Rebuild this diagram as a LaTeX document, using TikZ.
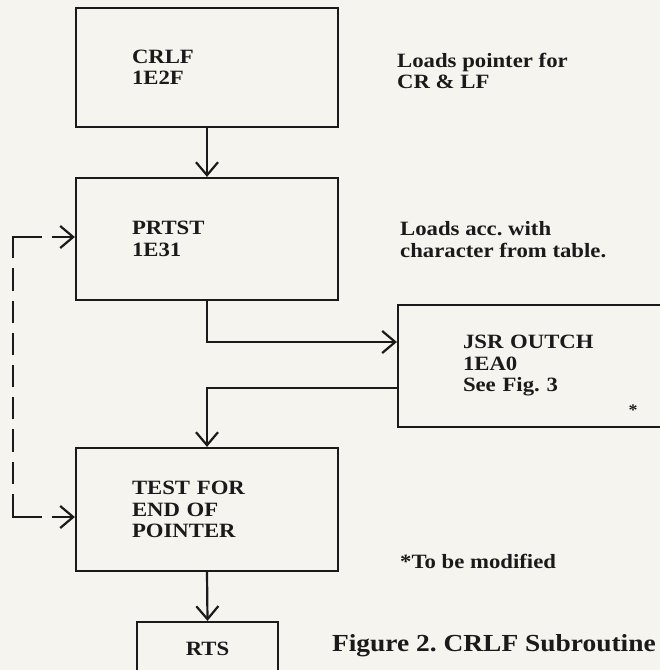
\documentclass[tikz,border=0pt]{standalone}
\usepackage{fontspec}
\newfontfamily\fnt[FakeStretch=1.12]{Liberation Serif}
\usetikzlibrary{arrows.meta}
\definecolor{paper}{HTML}{F6F4EF}
\definecolor{ink}{HTML}{1A1A1A}
\frenchspacing
\begin{document}
\begin{tikzpicture}[x=1pt,y=-1pt,
  txt/.style={font=\fnt\bfseries\fontsize{20.3}{21.5}\selectfont\frenchspacing},
  box/.style={txt, draw=ink, line width=2.2pt, text=ink, align=left, inner sep=0pt},
  note/.style={txt, text=ink, align=left, inner sep=0pt, anchor=base west},
  arr/.style={draw=ink, line width=2.2pt, -{Straight Barb[length=13pt,width=22pt]}},
  dashline/.style={draw=ink, line width=2.2pt, line cap=butt},
  dashhead/.style={dashline, dash pattern=on 30pt off 10pt on 40pt off 0pt,
    -{Straight Barb[length=13pt,width=22pt]}}
  ]
\fill[paper] (0,0) rectangle (660,670);
\useasboundingbox (0,0) rectangle (660,670);
\begin{scope}
\clip (0,0) rectangle (660,670);
% boxes
\node[box, minimum width=262pt, minimum height=119pt, text width=150pt] (crlf) at (207,67.5) {CRLF\\1E2F};
\node[box, minimum width=262pt, minimum height=122pt, text width=150pt] (prtst) at (207,239) {PRTST\\1E31};
\node[box, minimum width=282pt, minimum height=122pt, text width=152pt] (jsr) at (539,366) {JSR OUTCH\\1EA0\\See Fig. 3};
\node[box, minimum width=262pt, minimum height=123pt, text width=150pt] (test) at (207,509.5) {TEST FOR\\END OF\\POINTER};
\node[box, minimum width=141pt, minimum height=53pt, align=center] (rts) at (207.5,648.5) {RTS};
% notes (base anchor = baseline of the last line)
\node[note] (n1) at (397,88.5) {Loads pointer for\\CR \& LF};
\node[note] (n2) at (400,257) {Loads acc. with\\character from table.};
\node[txt, text=ink, inner sep=0pt, font=\fnt\bfseries\fontsize{16}{16}\selectfont] (ast) at (633,410) {*};
\node[note] (n3) at (400,568) {*To be modified};
\node[note, anchor=base east, font=\fnt\bfseries\fontsize{24.5}{26}\selectfont] (cap) at (656,651) {Figure 2. CRLF Subroutine};
% connectors
\coordinate (c1) at (13,237);
\coordinate (c2) at (13,517);
\draw[arr] (crlf.south) -- (prtst.north);
\draw[arr] (prtst.south) |- ([yshift=24pt]jsr.west);
\draw[arr] ([yshift=-22pt]jsr.west) -| (test.north);
\draw[arr] (test.south) -- (rts.north);
% dashed loop between TEST and PRTST
\draw[dashline, dash pattern=on 22.2pt off 10pt] ([yshift=1.1pt]c2) -- ([yshift=-1.1pt]c1);
\draw[dashhead] ([xshift=-1.1pt]c1) -- ([yshift=2pt]prtst.west);
\draw[dashhead] ([xshift=-1.1pt]c2) -- ([yshift=-7.5pt]test.west);
\end{scope}
\end{tikzpicture}
\end{document}
